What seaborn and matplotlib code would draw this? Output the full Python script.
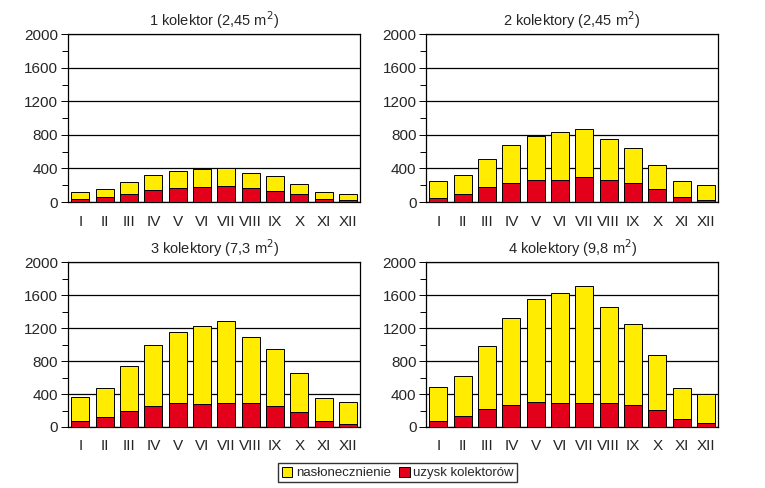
import matplotlib

matplotlib.use("Agg")
import matplotlib.pyplot as plt
import seaborn as sns
from matplotlib.patches import Patch
from matplotlib.ticker import MultipleLocator

months = ["I", "II", "III", "IV", "V", "VI", "VII", "VIII", "IX", "X", "XI", "XII"]

titles = [
    "1 kolektor (2,45 m$^2$)",
    "2 kolektory (2,45 m$^2$)",
    "3 kolektory (7,3 m$^2$)",
    "4 kolektory (9,8 m$^2$)",
]

# nasłonecznienie (total bar height)
insol_1 = [119, 154, 238, 321, 368, 392, 404, 345, 309, 214, 119, 95]
insol_2 = [250, 321, 511, 677, 784, 832, 867, 748, 642, 440, 250, 202]
insol_3 = [364, 473, 739, 994, 1151, 1224, 1285, 1091, 945, 654, 351, 303]
insol_4 = [488, 622, 988, 1317, 1549, 1622, 1707, 1451, 1244, 878, 476, 402]

# uzysk kolektorów
gain_1 = [36, 59, 95, 143, 166, 178, 190, 166, 131, 95, 36, 24]
gain_2 = [48, 95, 178, 226, 261, 261, 297, 261, 226, 154, 59, 24]
gain_3 = [73, 121, 194, 255, 291, 279, 291, 291, 255, 182, 73, 36]
gain_4 = [73, 134, 220, 268, 305, 293, 293, 293, 268, 207, 98, 49]

YELLOW = "#FFEC00"
RED = "#E2001A"

sns.set_theme(style="white")
plt.rcParams["font.family"] = ["Liberation Sans Narrow", "Liberation Sans", "DejaVu Sans"]
plt.rcParams["font.size"] = 10.5

fig = plt.figure(figsize=(7.65, 4.88), dpi=100)
positions = [
    (0.089, 0.586, 0.382, 0.344),
    (0.557, 0.586, 0.382, 0.344),
    (0.089, 0.125, 0.382, 0.338),
    (0.557, 0.125, 0.382, 0.338),
]
insol = [insol_1, insol_2, insol_3, insol_4]
gain = [gain_1, gain_2, gain_3, gain_4]

for pos, title, tot, g in zip(positions, titles, insol, gain):
    ax = fig.add_axes(pos)
    sns.barplot(x=months, y=tot, color=YELLOW, edgecolor="black", linewidth=0.7,
                width=0.74, saturation=1, ax=ax, zorder=3)
    sns.barplot(x=months, y=g, color=RED, edgecolor="black", linewidth=0.7,
                width=0.74, saturation=1, ax=ax, zorder=4)
    ax.set_xlim(-0.5, 11.5)
    ax.set_ylim(0, 2000)
    ax.yaxis.set_major_locator(MultipleLocator(400))
    ax.yaxis.set_minor_locator(MultipleLocator(200))
    ax.grid(axis="y", which="major", color="black", linewidth=0.9, zorder=0)
    ax.set_axisbelow(True)
    for sp in ax.spines.values():
        sp.set_color("black")
        sp.set_linewidth(0.9)
    ax.tick_params(axis="y", which="major", left=True, direction="out", length=5,
                   width=0.7, color="black", labelsize=11, pad=2)
    ax.tick_params(axis="y", which="minor", left=True, direction="out", length=4,
                   width=0.7, color="black")
    ax.tick_params(axis="x", bottom=False, labelsize=11, pad=3)
    ax.set_title(title, fontsize=10.5, pad=6)
    ax.set_xlabel("")
    ax.set_ylabel("")

handles = [
    Patch(facecolor=YELLOW, edgecolor="black", linewidth=0.7, label="nasłonecznienie"),
    Patch(facecolor=RED, edgecolor="black", linewidth=0.7, label="uzysk kolektorów"),
]
fig.legend(handles=handles, loc="center", bbox_to_anchor=(0.52, 0.031), ncol=2,
           frameon=True, fancybox=False, edgecolor="black", fontsize=9.5,
           handlelength=0.8, handleheight=0.8, handletextpad=0.3,
           columnspacing=0.6, borderpad=0.25, borderaxespad=0)

fig.savefig("out.png", dpi=100, facecolor="white")
